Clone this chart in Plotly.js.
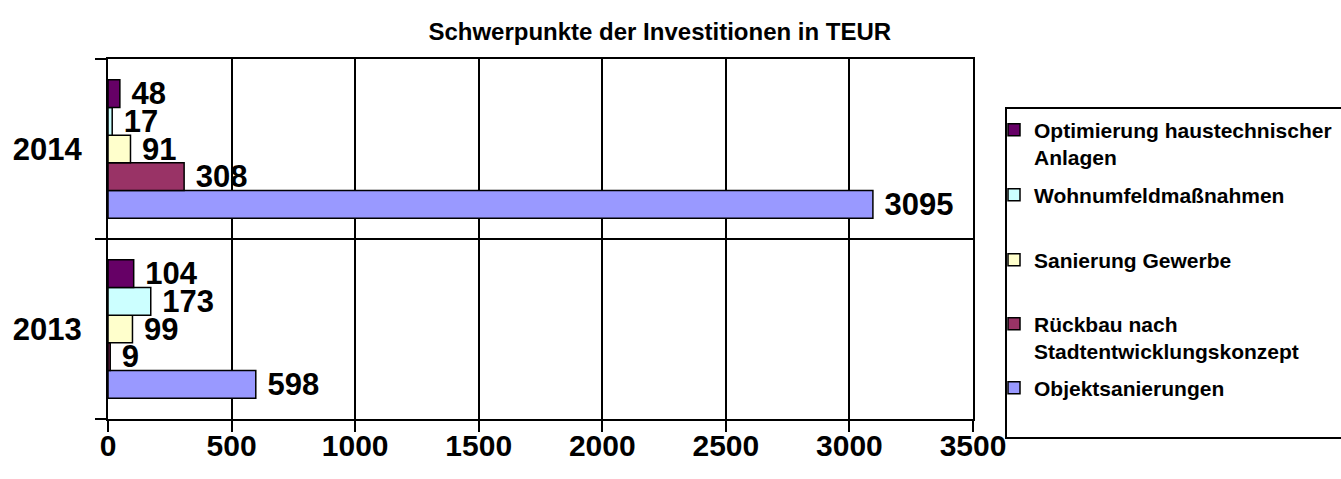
<!DOCTYPE html>
<html>
<head>
<meta charset="utf-8">
<script src="https://cdn.plot.ly/plotly-3.0.1.min.js"></script>
<style>html,body{margin:0;padding:0;background:#fff;}#chart{width:1341px;height:479px;}</style>
</head>
<body>
<div id="chart"></div>
<script>
const years = ['2013', '2014'];
const seriesNames = [
  'Objektsanierungen',
  'Rückbau nach<br>Stadtentwicklungskonzept',
  'Sanierung Gewerbe',
  'Wohnumfeldmaßnahmen',
  'Optimierung haustechnischer<br>Anlagen'
];
const objektsanierungen = [598, 3095];
const rueckbau = [9, 308];
const sanierungGewerbe = [99, 91];
const wohnumfeld = [173, 17];
const optimierung = [104, 48];
const xTicks = [0, 500, 1000, 1500, 2000, 2500, 3000, 3500];

const seriesValues = [objektsanierungen, rueckbau, sanierungGewerbe, wohnumfeld, optimierung];
const colors = ['#9999FF', '#993366', '#FFFFCC', '#CCFFFF', '#660066'];
const legendIds = ['legend5', 'legend4', 'legend3', 'legend2', 'legend'];

const FONT = 'Liberation Sans, Arial, Helvetica, sans-serif';
const W = 1341, H = 479;

const traces = seriesValues.map((vals, i) => ({
  type: 'bar',
  orientation: 'h',
  name: seriesNames[i],
  y: years,
  x: vals,
  legend: legendIds[i],
  showlegend: true,
  marker: { color: colors[i], line: { color: '#000', width: 1.5 } },
  text: vals.map(String),
  texttemplate: '\u00A0%{text}',
  textposition: 'outside',
  constraintext: 'none',
  cliponaxis: false,
  textfont: { family: FONT, size: 31, color: '#000', weight: 'bold' },
  hoverinfo: 'x+name'
}));

// plot area in px: x 108..973, y 59..419
const px2x = p => (p - 108) / 865;
const py2y = p => (419 - p) / 360;

function leg(ypx) {
  return {
    xref: 'container', yref: 'container',
    x: 994 / W, xanchor: 'left',
    y: 1 - ypx / H, yanchor: 'middle',
    bgcolor: 'rgba(0,0,0,0)', borderwidth: 0,
    valign: 'top',
    font: { family: FONT, size: 21, color: '#000', weight: 'bold' }
  };
}

const layout = {
  width: W, height: H,
  margin: { l: 108, r: 368, t: 59, b: 60, pad: 0, autoexpand: false },
  paper_bgcolor: '#fff', plot_bgcolor: '#fff',
  font: { family: FONT, color: '#000' },
  showlegend: true,
  title: {
    text: '<b>Schwerpunkte der Investitionen in TEUR</b>',
    font: { family: FONT, size: 24, color: '#000' },
    x: 0.492, xanchor: 'center', y: 1 - 32 / H, yanchor: 'middle'
  },
  barmode: 'group',
  bargap: 0.23,
  bargroupgap: 0,
  xaxis: {
    range: [0, 3500],
    tickvals: xTicks,
    ticktext: xTicks.map(String),
    ticks: 'outside', ticklen: 11, tickwidth: 2, tickcolor: '#000',
    showline: true, linecolor: '#000', linewidth: 2, mirror: true,
    showgrid: true, gridcolor: '#000', gridwidth: 2,
    zeroline: false,
    ticklabelstandoff: -12,
    tickfont: { family: FONT, size: 30, color: '#000', weight: 'bold' },
    automargin: false,
    fixedrange: true
  },
  yaxis: {
    type: 'category',
    categoryorder: 'array', categoryarray: years,
    tickson: 'boundaries',
    ticks: 'outside', ticklen: 11, tickwidth: 2, tickcolor: '#000',
    showline: true, linecolor: '#000', linewidth: 2, mirror: true,
    showgrid: true, gridcolor: '#000', gridwidth: 2,
    zeroline: false,
    ticklabelstandoff: 18,
    tickfont: { family: FONT, size: 31, color: '#000', weight: 'bold' },
    automargin: false,
    fixedrange: true
  },
  legend: leg(143.5),
  legend2: leg(195),
  legend3: leg(260),
  legend4: leg(337.5),
  legend5: leg(388),
  shapes: [{
    type: 'rect', xref: 'paper', yref: 'paper',
    x0: px2x(1006), x1: px2x(1346), y0: py2y(438), y1: py2y(108),
    line: { color: '#000', width: 2 }, fillcolor: 'rgba(0,0,0,0)', layer: 'below'
  }]
};

Plotly.newPlot('chart', traces, layout, { displayModeBar: false, staticPlot: false });
</script>
</body>
</html>
